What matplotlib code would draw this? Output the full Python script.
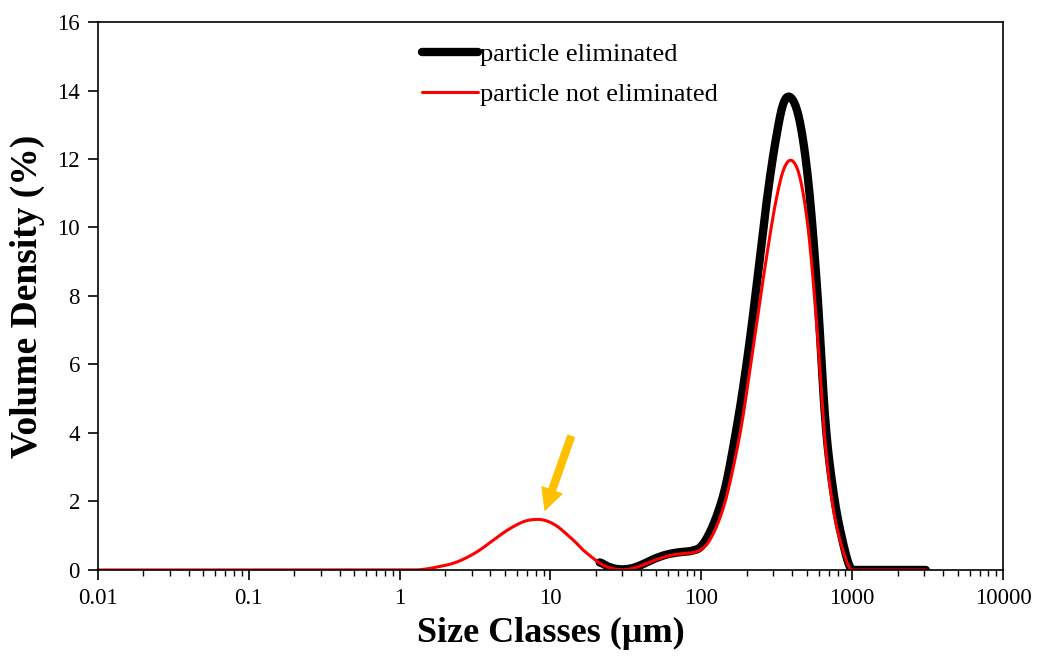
import numpy as np
import matplotlib
matplotlib.use("Agg")
import matplotlib.pyplot as plt
from matplotlib.ticker import LogLocator, NullFormatter, FixedLocator, FixedFormatter

plt.rcParams['font.family'] = ['Liberation Serif', 'DejaVu Serif']

# size classes (um) - red curve covers full range
sizes = [0.0100, 0.0114, 0.0129, 0.0147, 0.0167, 0.0189, 0.0215, 0.0244, 0.0278, 0.0315,
         0.0358, 0.0407, 0.0463, 0.0526, 0.0597, 0.0679, 0.0771, 0.0876, 0.0995, 0.113,
         0.128, 0.146, 0.166, 0.188, 0.214, 0.243, 0.276, 0.314, 0.357, 0.405,
         0.460, 0.523, 0.594, 0.675, 0.767, 0.872, 0.991, 1.13, 1.28, 1.45,
         1.65, 1.88, 2.13, 2.42, 2.75, 3.12, 3.55, 4.03, 4.58, 5.21,
         5.92, 6.72, 7.64, 8.68, 9.86, 11.2, 12.7, 14.5, 16.4, 18.7,
         21.2, 24.1, 27.4, 31.1, 35.3, 40.1, 45.6, 51.8, 58.9, 66.9,
         76.0, 86.4, 98.1, 111, 127, 144, 163, 186, 211, 240,
         272, 310, 352, 400, 454, 516, 586, 666, 756, 859,
         976, 1110, 1260, 1430, 1630, 1850, 2100, 2390, 2710, 3080]

not_elim = [0] * 37 + [0, 0, 0.02,
            0.06, 0.11, 0.16, 0.24, 0.35, 0.48, 0.64, 0.82, 1.0, 1.17,
            1.31, 1.42, 1.47, 1.47, 1.40, 1.26, 1.06, 0.83, 0.59, 0.38,
            0.20, 0.08, 0.02, 0.01, 0.05, 0.13, 0.23, 0.32, 0.40, 0.45,
            0.48, 0.50, 0.58, 0.80, 1.3, 2.0, 3.0, 4.3, 5.9, 7.6,
            9.2, 10.7, 11.7, 11.95, 11.4, 9.8, 7.0, 3.6, 1.7, 0.65,
            0.02, 0, 0, 0, 0, 0, 0, 0, 0, 0]

# particle eliminated starts at 21.2 um
sizes_elim = sizes[60:]
elim = [0.22, 0.10, 0.03, 0.02, 0.06, 0.15, 0.27, 0.37, 0.45, 0.50,
        0.53, 0.56, 0.66, 1.0, 1.6, 2.4, 3.6, 5.1, 6.8, 8.8,
        10.8, 12.5, 13.65, 13.75, 13.0, 11.2, 8.2, 4.3, 2.2, 0.9,
        0.05, 0, 0, 0, 0, 0, 0, 0, 0, 0]


def smooth_line(xs, ys, n=12):
    # Excel-like smoothed line: Catmull-Rom through the points in log-x space
    lx = np.log10(np.asarray(xs, float))
    y = np.asarray(ys, float)
    px = np.concatenate([[2 * lx[0] - lx[1]], lx, [2 * lx[-1] - lx[-2]]])
    py = np.concatenate([[y[0]], y, [y[-1]]])
    t = np.linspace(0, 1, n, endpoint=False)[:, None]
    p0x, p1x, p2x, p3x = px[:-3], px[1:-2], px[2:-1], px[3:]
    p0y, p1y, p2y, p3y = py[:-3], py[1:-2], py[2:-1], py[3:]

    def cr(p0, p1, p2, p3):
        return 0.5 * (2 * p1 + (-p0 + p2) * t + (2 * p0 - 5 * p1 + 4 * p2 - p3) * t ** 2
                      + (-p0 + 3 * p1 - 3 * p2 + p3) * t ** 3)
    ox = cr(p0x, p1x, p2x, p3x).T.ravel()
    oy = cr(p0y, p1y, p2y, p3y).T.ravel()
    ox = np.append(ox, lx[-1])
    oy = np.append(oy, y[-1])
    return 10 ** ox, np.maximum(oy, 0)


fig = plt.figure(figsize=(10.40, 6.59), dpi=100)
ax = fig.add_axes([0.0942, 0.1351, 0.8702, 0.8315])

sx, sy = smooth_line(sizes_elim, elim)
ax.plot(sx, sy, color='black', lw=6, solid_capstyle='round',
        label='particle eliminated')
sx, sy = smooth_line(sizes, not_elim)
ax.plot(sx, sy, color='red', lw=2.2, solid_capstyle='round',
        label='particle not eliminated')

ax.set_xscale('log')
ax.set_xlim(0.01, 10000)
ax.set_ylim(0, 16)
ax.xaxis.set_major_locator(FixedLocator([0.01, 0.1, 1, 10, 100, 1000, 10000]))
ax.xaxis.set_major_formatter(FixedFormatter(['0.01', '0.1', '1', '10', '100', '1000', '10000']))
ax.xaxis.set_minor_locator(LogLocator(base=10, subs=range(2, 10)))
ax.xaxis.set_minor_formatter(NullFormatter())
ax.set_yticks(range(0, 17, 2))

ax.tick_params(axis='both', which='major', direction='out', length=7, width=1.2,
               labelsize=16.5, pad=6)
ax.tick_params(axis='x', which='minor', direction='out', length=4, width=1.0)
ax.tick_params(top=False, right=False)
for s in ax.spines.values():
    s.set_linewidth(1.2)

ax.set_xlabel('Size Classes (\u00b5m)', fontsize=26, fontweight='bold', labelpad=6)
ax.set_ylabel('Volume Density (%)', fontsize=27, fontweight='bold', labelpad=9)

ax.legend(loc='upper left', bbox_to_anchor=(0.332, 1.005), frameon=False,
          fontsize=19, handlelength=2.1, handletextpad=0.1, labelspacing=0.62)

# arrow pointing at the small-particle peak
ax.annotate('', xy=(9.2, 1.75), xytext=(13.7, 3.9),
            arrowprops=dict(facecolor='#FFC000', edgecolor='#FFC000',
                            width=5, headwidth=15, headlength=15))

fig.savefig('out.png', dpi=100)
